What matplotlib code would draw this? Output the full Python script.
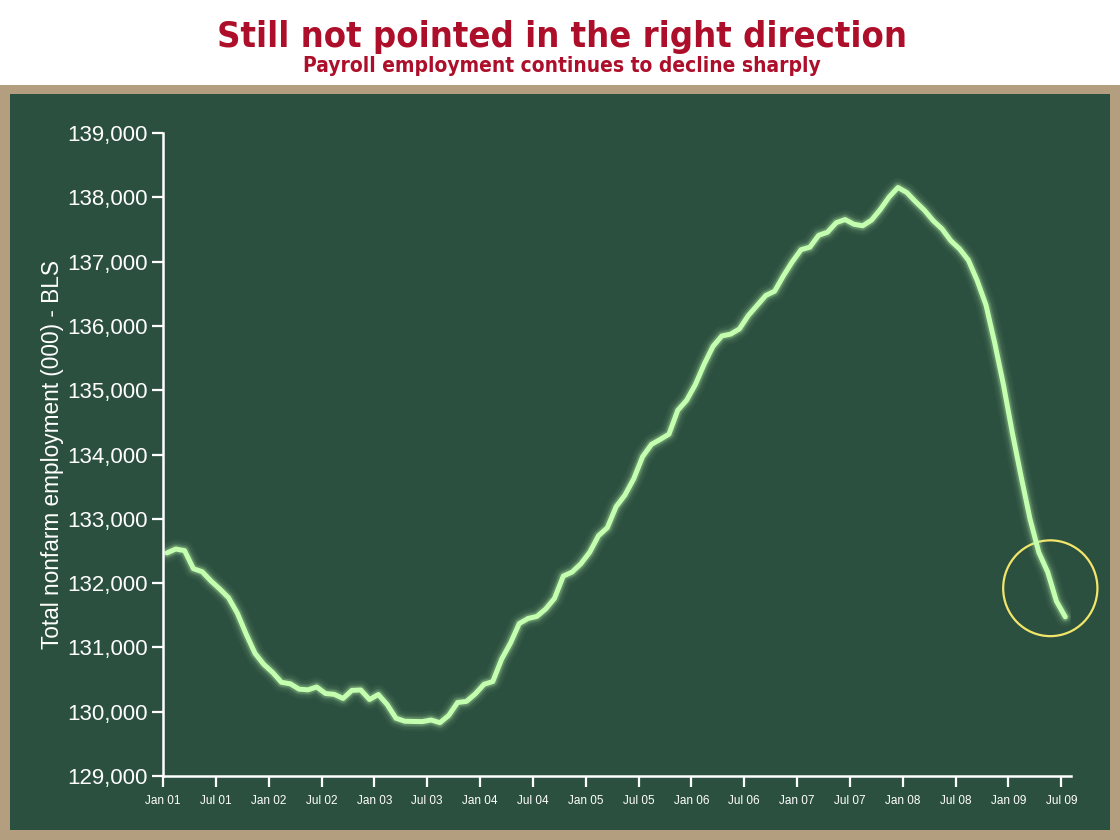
import numpy as np
import matplotlib.pyplot as plt
from matplotlib.patches import Rectangle, Ellipse

# total nonfarm payroll employment, thousands, Jan 2001 .. Jul 2009 (monthly)
payroll = [
    132469, 132530, 132505, 132225, 132177, 132033, 131908, 131771, 131530, 131205, 130907, 130735,
    130610, 130457, 130434, 130351, 130340, 130384, 130283, 130270, 130206, 130332, 130338, 130190,
    130267, 130112, 129899, 129852, 129848, 129846, 129871, 129829, 129943, 130143, 130160, 130276,
    130426, 130470, 130817, 131066, 131371, 131450, 131482, 131597, 131762, 132109, 132172, 132301,
    132480, 132737, 132862, 133189, 133369, 133622, 133965, 134156, 134234, 134317, 134688, 134842,
    135088, 135405, 135682, 135843, 135872, 135953, 136160, 136317, 136474, 136540, 136780, 136997,
    137185, 137225, 137409, 137457, 137606, 137654, 137581, 137557, 137645, 137811, 138005, 138152,
    138075, 137932, 137800, 137637, 137509, 137325, 137197, 137022, 136704, 136324, 135727, 135070,
    134329, 133648, 132995, 132476, 132173, 131717, 131474,
]
tick_labels = ["Jan 01", "Jul 01", "Jan 02", "Jul 02", "Jan 03", "Jul 03", "Jan 04", "Jul 04",
               "Jan 05", "Jul 05", "Jan 06", "Jul 06", "Jan 07", "Jul 07", "Jan 08", "Jul 08",
               "Jan 09", "Jul 09"]
y_ticks = [129000, 130000, 131000, 132000, 133000, 134000, 135000, 136000, 137000, 138000, 139000]

board = "#2c5040"
tan = "#b49e80"
chalk = "#c4ffb0"
red = "#ad0f2a"

fig = plt.figure(figsize=(11.2, 8.4), dpi=100)
fig.patch.set_facecolor("white")

# frame + chalkboard
fig.patches.append(Rectangle((0, 0), 1, 1 - 85 / 840, transform=fig.transFigure,
                             facecolor=tan, edgecolor="none", zorder=0))
bx0, by0 = 10 / 1120, 10 / 840
bx1, by1 = 1110 / 1120, 1 - 94 / 840
fig.patches.append(Rectangle((bx0, by0), bx1 - bx0, by1 - by0, transform=fig.transFigure,
                             facecolor=board, edgecolor="none", zorder=0))

# a little chalk dust on the board
rng = np.random.default_rng(3)
noise = rng.normal(0, 1, (368, 550))
bg = fig.add_axes([bx0, by0, bx1 - bx0, by1 - by0], zorder=0)
bg.imshow(noise, cmap="Greys", alpha=0.05, aspect="auto", interpolation="bilinear")
bg.axis("off")

fig.text(0.502, 0.956, "Still not pointed in the right direction", ha="center", va="center",
         fontsize=26, fontweight="bold", color=red, family="DejaVu Sans", fontstretch="condensed")
fig.text(0.502, 0.922, "Payroll employment continues to decline sharply", ha="center", va="center",
         fontsize=15, fontweight="bold", color=red, family="DejaVu Sans", fontstretch="condensed")

ax = fig.add_axes([163 / 1120, 1 - 776 / 840, (1071 - 163) / 1120, (776 - 133) / 840], zorder=1)
ax.set_facecolor("none")

x = np.arange(len(payroll)) + 0.45
for lw, a in [(14, 0.04), (11, 0.06), (8, 0.12), (6, 0.2)]:
    ax.plot(x, payroll, color=chalk, lw=lw, alpha=a, solid_capstyle="round",
            solid_joinstyle="round")
ax.plot(x, payroll, color=chalk, lw=3.6, solid_capstyle="round", solid_joinstyle="round")

ax.add_patch(Ellipse((100.75, 131920), 10.7, 1490, facecolor="none",
                     edgecolor="#f2e66a", lw=1.6, clip_on=False))

ax.set_xlim(0, 103.1)
ax.set_ylim(129000, 139000)
ax.set_xticks(np.arange(0, 6 * len(tick_labels), 6))
ax.set_xticklabels(tick_labels)
ax.set_yticks(y_ticks)
ax.set_yticklabels([f"{v:,}" for v in y_ticks])

for s in ["top", "right"]:
    ax.spines[s].set_visible(False)
for s in ["left", "bottom"]:
    ax.spines[s].set_color("white")
    ax.spines[s].set_linewidth(1.8)
ax.tick_params(axis="both", colors="white", direction="out", length=8, width=1.6)
ax.tick_params(axis="y", labelsize=16, pad=3)
ax.tick_params(axis="x", labelsize=8.5, pad=6)
for t in ax.get_xticklabels() + ax.get_yticklabels():
    t.set_family("Liberation Sans")

ax.set_ylabel("Total nonfarm employment (000) - BLS", color="white", fontsize=16.3,
              family="Liberation Sans", labelpad=2)

fig.savefig("out.png", dpi=100)
